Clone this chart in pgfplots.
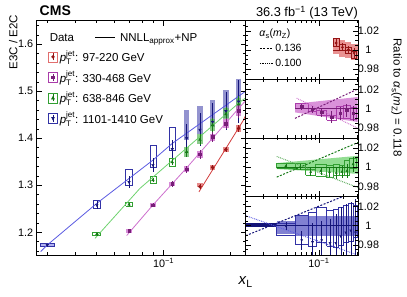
\documentclass[border=0pt]{standalone}
\usepackage{pgfplots}
\pgfplotsset{compat=1.18}
\usepackage{fontspec}
\setmainfont{Liberation Sans}

\definecolor{redM}{RGB}{150,20,20}
\definecolor{redL}{RGB}{210,60,60}
\definecolor{redB}{RGB}{225,110,110}
\definecolor{purM}{RGB}{120,30,120}
\definecolor{purL}{RGB}{205,110,205}
\definecolor{purB}{RGB}{170,60,170}
\definecolor{grnM}{RGB}{20,120,20}
\definecolor{grnL}{RGB}{110,210,110}
\definecolor{grnB}{RGB}{50,160,50}
\definecolor{bluM}{RGB}{20,20,120}
\definecolor{bluL}{RGB}{90,90,225}
\definecolor{bluB}{RGB}{50,50,165}

\newcommand{\pTjet}{\textit{p}$_{\mathrm{T}}^{\mathrm{jet}}$}
\newcommand{\obox}[5]{\addplot[#1,forget plot] coordinates {(#2,#4) (#3,#4) (#3,#5) (#2,#5) (#2,#4)};}
\newcommand{\fbx}[5]{\addplot[#1,draw=none,forget plot] coordinates {(#2,#4) (#3,#4) (#3,#5) (#2,#5)};}

\pgfplotsset{
 every axis/.append style={
   scale only axis, axis line style={line width=0.55pt}, tick align=inside,
   every tick/.style={black, line width=0.45pt},
   major tick length=5pt, minor tick length=2.6pt,
   tick label style={font=\fontsize{10.8}{12}\selectfont},
   axis on top,
 },
 mk/.style={only marks, mark size=1.5pt, forget plot,
   error bars/y dir=both, error bars/y explicit,
   error bars/error bar style={line width=0.5pt}, error bars/error mark=none},
}

\begin{document}
\begin{tikzpicture}
\useasboundingbox (0,0) rectangle (407pt,297pt);

% ================= MAIN PANEL =================
\begin{axis}[at={(36.7pt,42pt)}, anchor=south west, width=209pt, height=234.3pt,
  xmode=log, xmin=0.02698, xmax=0.2335, ymin=1.1517, ymax=1.65,
  xtick={0.1}, xticklabels={10\textsuperscript{−1}},
  minor xtick={0.03,0.04,0.05,0.06,0.07,0.08,0.09,0.2},
  ytick={1.2,1.3,1.4,1.5,1.6}, yticklabels={1.2,1.3,1.4,1.5,1.6},
  minor ytick={1.16,1.18,1.22,1.24,1.26,1.28,1.32,1.34,1.36,1.38,1.42,1.44,1.46,1.48,1.52,1.54,1.56,1.58,1.62,1.64},
  legend style={at={(axis description cs:0.054,0.955)}, anchor=north west, draw=none, fill=none,
     font=\fontsize{11.5}{13}\selectfont, row sep=3.4pt, inner sep=0pt},
  legend cell align=left,
]
\addlegendimage{empty legend}
\addlegendentry{\hspace*{-10pt}Data\hspace{21pt}\rule[3.6pt]{20pt}{0.8pt}\hspace{5pt}NNLL\textsubscript{approx}+NP}
\addlegendimage{legend image code/.code={
  \draw[redB, line width=0.6pt] (0pt,-5pt) rectangle (9pt,5pt);
  \draw[redM, line width=0.5pt] (4.5pt,-3.5pt) -- (4.5pt,3.5pt);
  \fill[redM] (4.5pt,0pt) circle (1.5pt);}}
\addlegendentry{\pTjet: 97-220 GeV}
\addlegendimage{legend image code/.code={
  \draw[purB, line width=0.6pt] (0pt,-5pt) rectangle (9pt,5pt);
  \draw[purM, line width=0.5pt] (4.5pt,-3.5pt) -- (4.5pt,3.5pt);
  \fill[purM] (3.2pt,-1.3pt) rectangle (5.8pt,1.3pt);}}
\addlegendentry{\pTjet: 330-468 GeV}
\addlegendimage{legend image code/.code={
  \draw[grnB, line width=0.6pt] (0pt,-5pt) rectangle (9pt,5pt);
  \draw[grnM, line width=0.5pt] (4.5pt,-3.5pt) -- (4.5pt,3.5pt);
  \fill[grnM] (3.0pt,-1.2pt) -- (6.0pt,-1.2pt) -- (4.5pt,1.6pt) -- cycle;}}
\addlegendentry{\pTjet: 638-846 GeV}
\addlegendimage{legend image code/.code={
  \draw[bluB, line width=0.6pt] (0pt,-5pt) rectangle (9pt,5pt);
  \draw[bluM, line width=0.5pt] (4.5pt,-3.5pt) -- (4.5pt,3.5pt);
  \fill[bluM] (3.0pt,1.2pt) -- (6.0pt,1.2pt) -- (4.5pt,-1.6pt) -- cycle;}}
\addlegendentry{\pTjet: 1101-1410 GeV}

% --- blue boxes & bars
\fbx{fill=bluL!60, opacity=0.8}{0.02793}{0.03225}{1.170}{1.177}
\obox{bluB, line width=0.6pt}{0.02793}{0.03225}{1.170}{1.177}
\obox{bluB, line width=0.6pt}{0.0485}{0.0520}{1.252}{1.267}
\obox{bluB, line width=0.6pt}{0.0677}{0.0724}{1.299}{1.334}
\obox{bluB, line width=0.6pt}{0.0868}{0.0925}{1.339}{1.385}
\obox{bluB, line width=0.6pt}{0.1063}{0.1127}{1.375}{1.423}
\fbx{fill=bluB!75, opacity=0.7}{0.1233}{0.1306}{1.396}{1.460}
\fbx{fill=bluB!75, opacity=0.7}{0.1414}{0.1499}{1.410}{1.468}
\fbx{fill=bluB!75, opacity=0.7}{0.1612}{0.1708}{1.424}{1.481}
\fbx{fill=bluB!75, opacity=0.7}{0.1849}{0.1959}{1.442}{1.502}
\fbx{fill=bluB!75, opacity=0.7}{0.2109}{0.2235}{1.455}{1.525}
% --- green
\obox{grnB, line width=0.6pt}{0.0479}{0.0522}{1.193}{1.199}
\obox{grnB, line width=0.6pt}{0.0677}{0.0724}{1.256}{1.263}
\obox{grnB, line width=0.6pt}{0.0868}{0.0925}{1.304}{1.319}
\obox{grnB, line width=0.6pt}{0.1063}{0.1127}{1.341}{1.357}
\fbx{fill=grnB!80, opacity=0.7}{0.1233}{0.1306}{1.360}{1.382}
\fbx{fill=grnB!80, opacity=0.7}{0.1414}{0.1499}{1.388}{1.410}
\fbx{fill=grnB!80, opacity=0.7}{0.1612}{0.1708}{1.416}{1.440}
\fbx{fill=grnB!80, opacity=0.7}{0.1849}{0.1959}{1.440}{1.464}
\fbx{fill=grnB!80, opacity=0.7}{0.2109}{0.2235}{1.458}{1.486}
% --- purple
\fbx{fill=purL, opacity=0.8}{0.0677}{0.0724}{1.199}{1.207}
\fbx{fill=purL, opacity=0.8}{0.0868}{0.0925}{1.254}{1.262}
\fbx{fill=purL, opacity=0.8}{0.1063}{0.1127}{1.298}{1.308}
\fbx{fill=purL, opacity=0.8}{0.1233}{0.1306}{1.329}{1.340}
\fbx{fill=purL, opacity=0.8}{0.1414}{0.1499}{1.359}{1.372}
\fbx{fill=purL, opacity=0.8}{0.1612}{0.1708}{1.395}{1.410}
\fbx{fill=purL, opacity=0.8}{0.1849}{0.1959}{1.422}{1.440}
\fbx{fill=purL, opacity=0.8}{0.2109}{0.2235}{1.447}{1.470}
% --- red
\fbx{fill=redB, opacity=0.8}{0.1414}{0.1499}{1.296}{1.305}
\fbx{fill=redB, opacity=0.8}{0.1612}{0.1708}{1.333}{1.344}
\fbx{fill=redB, opacity=0.8}{0.1849}{0.1959}{1.371}{1.382}
\fbx{fill=redB, opacity=0.8}{0.2109}{0.2235}{1.414}{1.428}

% --- theory lines
\addplot[bluL, line width=0.8pt, forget plot] coordinates {(0.0281,1.159) (0.0301,1.173) (0.0502,1.2616) (0.0896,1.3535) (0.1094,1.389) (0.2201,1.4915) (0.2335,1.500)};
\addplot[grnL, line width=0.8pt, forget plot] coordinates {(0.04925,1.187) (0.0784,1.2935) (0.2201,1.477) (0.2335,1.486)};
\addplot[purL, line width=0.8pt, forget plot] coordinates {(0.0683,1.193) (0.0896,1.258) (0.1269,1.337) (0.2201,1.4667) (0.2335,1.480)};
\addplot[redL, line width=0.8pt, forget plot] coordinates {(0.1441,1.286) (0.2278,1.438) (0.2335,1.449)};

% --- data markers
\addplot[mk, bluM, mark=triangle*, mark options={rotate=180}] table[x=x,y=y,y error=e] {
x y e
0.0301 1.173 0.003
0.0502 1.258 0.008
0.0700 1.307 0.012
0.0896 1.343 0.014
0.1094 1.377 0.02
0.1269 1.400 0.03
0.1456 1.418 0.035
0.1659 1.435 0.04
0.1903 1.458 0.04
0.2171 1.478 0.045
};
\addplot[mk, grnM, mark=triangle*] table[x=x,y=y,y error=e] {
x y e
0.0502 1.196 0.003
0.0700 1.259 0.004
0.0896 1.311 0.005
0.1094 1.349 0.006
0.1269 1.371 0.01
0.1456 1.397 0.012
0.1659 1.428 0.015
0.1903 1.451 0.015
0.2171 1.472 0.018
};
\addplot[mk, purM, mark=square*, mark size=1.3pt] table[x=x,y=y,y error=e] {
x y e
0.0700 1.2034 0.002
0.0896 1.258 0.004
0.1094 1.303 0.006
0.1269 1.334 0.008
0.1456 1.366 0.01
0.1659 1.403 0.01
0.1903 1.431 0.012
0.2171 1.458 0.014
};
\addplot[mk, redM, mark=*] table[x=x,y=y,y error=e] {
x y e
0.1456 1.297 0.005
0.1659 1.338 0.005
0.1903 1.376 0.006
0.2171 1.421 0.008
};
\end{axis}

% ================= RATIO PANEL 1 (red) =================
\begin{axis}[at={(245.7pt,217.725pt)}, anchor=south west, width=112.3pt, height=58.575pt,
   xmode=log, xmin=0.01212, xmax=0.3072, ymin=0.9695, ymax=1.0305,
   ytick={0.98,1,1.02}, yticklabels={0.98,1,1.02},
   minor ytick={0.975,0.985,0.99,0.995,1.005,1.01,1.015,1.025},
   yticklabel pos=right, yticklabel style={anchor=center, xshift=10.5pt},
   xtick={0.1}, minor xtick={0.02,0.03,0.04,0.05,0.06,0.07,0.08,0.09,0.2,0.3},
   xticklabels={},
  legend style={at={(axis description cs:0.12,0.90)}, anchor=north west, draw=none, fill=none,
     font=\fontsize{10.5}{11}\selectfont, row sep=2.2pt, inner sep=0pt},
  legend cell align=left]
\addlegendimage{empty legend}
\addlegendentry{\hspace*{-16pt}\textit{α}$_{\mathrm{s}}$(\textit{m}$_{\mathrm{Z}}$)}
\addlegendimage{legend image code/.code={\draw[black, line width=0.9pt, dash pattern=on 2pt off 1.5pt] (0pt,0pt)--(13pt,0pt);}}
\addlegendentry{0.136}
\addlegendimage{legend image code/.code={\draw[black, line width=0.9pt, dash pattern=on 0.8pt off 1pt] (0pt,0pt)--(13pt,0pt);}}
\addlegendentry{0.100}
\fbx{fill=redB, opacity=0.75}{0.1490}{0.1800}{0.996}{1.011}
\fbx{fill=redB, opacity=0.75}{0.1800}{0.2140}{0.993}{1.010}
\fbx{fill=redB, opacity=0.75}{0.2140}{0.2540}{0.992}{1.008}
\fbx{fill=redB, opacity=0.75}{0.2540}{0.3047}{0.990}{1.006}
\obox{redM, line width=0.6pt}{0.1490}{0.1800}{1.0039}{1.0118}
\obox{redM, line width=0.6pt}{0.1800}{0.2140}{0.9993}{1.0055}
\obox{redM, line width=0.6pt}{0.2140}{0.2540}{0.9969}{1.0028}
\obox{redM, line width=0.6pt}{0.2540}{0.2960}{0.9909}{0.9986}
\addplot[redM, line width=0.6pt, forget plot] coordinates {(0.149,1) (0.3047,1)};
\addplot[mk, redM, mark=*, mark size=1.2pt] table[x=x,y=y,y error=e] {
x y e
0.1638 1.0073 0.004
0.1963 1.0028 0.004
0.2332 1.0003 0.004
0.2742 0.9969 0.005
};
\end{axis}

% ================= RATIO PANEL 2 (purple) =================
\begin{axis}[at={(245.7pt,159.15pt)}, anchor=south west, width=112.3pt, height=58.575pt,
   xmode=log, xmin=0.01212, xmax=0.3072, ymin=0.9695, ymax=1.0305,
   ytick={0.98,1,1.02}, yticklabels={0.98,1,1.02},
   minor ytick={0.975,0.985,0.99,0.995,1.005,1.01,1.015,1.025},
   yticklabel pos=right, yticklabel style={anchor=center, xshift=10.5pt},
   xtick={0.1}, minor xtick={0.02,0.03,0.04,0.05,0.06,0.07,0.08,0.09,0.2,0.3},
   xticklabels={}]
\addplot[fill=purL, opacity=0.75, draw=none, forget plot] coordinates {(0.0501,0.996) (0.0501,1.005) (0.3047,1.012) (0.3047,0.986)};
\obox{purB, line width=0.6pt}{0.0501}{0.0735}{1.0003}{1.0055}
\obox{purB, line width=0.6pt}{0.0735}{0.0936}{0.9969}{1.0007}
\obox{purB, line width=0.6pt}{0.0936}{0.1248}{0.9931}{0.9983}
\obox{purB, line width=0.6pt}{0.1248}{0.1665}{0.988}{0.9931}
\obox{purB, line width=0.6pt}{0.1665}{0.2013}{0.9899}{1.002}
\obox{purB, line width=0.6pt}{0.2013}{0.2450}{0.9899}{1.003}
\obox{purB, line width=0.6pt}{0.2450}{0.2950}{0.989}{1.001}
\addplot[purM, line width=0.6pt, forget plot] coordinates {(0.0501,1) (0.3047,1)};
\addplot[purM, line width=1pt, dash pattern=on 2pt off 1.5pt, forget plot] coordinates {(0.0501,0.9898) (0.3072,1.0205)};
\addplot[purL, line width=1pt, dash pattern=on 0.8pt off 1pt, forget plot] coordinates {(0.0526,1.0108) (0.3072,0.9794)};
\addplot[mk, purM, mark=square*, mark size=1.1pt] table[x=x,y=y,y error=e] {
x y e
0.0608 1.002 0.003
0.0830 0.999 0.004
0.1080 0.996 0.005
0.1440 0.991 0.006
0.1830 0.995 0.007
0.2220 0.998 0.007
0.2690 0.995 0.008
};
\end{axis}

% ================= RATIO PANEL 3 (green) =================
\begin{axis}[at={(245.7pt,100.575pt)}, anchor=south west, width=112.3pt, height=58.575pt,
   xmode=log, xmin=0.01212, xmax=0.3072, ymin=0.9695, ymax=1.0305,
   ytick={0.98,1,1.02}, yticklabels={0.98,1,1.02},
   minor ytick={0.975,0.985,0.99,0.995,1.005,1.01,1.015,1.025},
   yticklabel pos=right, yticklabel style={anchor=center, xshift=10.5pt},
   xtick={0.1}, minor xtick={0.02,0.03,0.04,0.05,0.06,0.07,0.08,0.09,0.2,0.3},
   xticklabels={}]
\addplot[fill=grnL, opacity=0.75, draw=none, forget plot] coordinates {(0.0296,0.998) (0.0296,1.0042) (0.3072,1.0118) (0.3072,0.993)};
\obox{grnB, line width=0.6pt}{0.0296}{0.0501}{0.9986}{1.0042}
\obox{grnB, line width=0.6pt}{0.0501}{0.0680}{0.9980}{1.0035}
\obox{grnB, line width=0.6pt}{0.0680}{0.0910}{0.9916}{0.9979}
\obox{grnB, line width=0.6pt}{0.0910}{0.1220}{0.9903}{1.0028}
\obox{grnB, line width=0.6pt}{0.1220}{0.1500}{0.9896}{1.0018}
\obox{grnB, line width=0.6pt}{0.1500}{0.1800}{0.9910}{1.0028}
\obox{grnB, line width=0.6pt}{0.1800}{0.2080}{0.9920}{1.0018}
\obox{grnB, line width=0.6pt}{0.2080}{0.2400}{0.9920}{1.0070}
\obox{grnB, line width=0.6pt}{0.2400}{0.2960}{0.9990}{1.0090}
\addplot[grnM, line width=0.6pt, forget plot] coordinates {(0.0296,1) (0.3047,1)};
\addplot[grnM, line width=1pt, dash pattern=on 2pt off 1.5pt, forget plot] coordinates {(0.0296,0.9896) (0.3072,1.0257)};
\addplot[grnL!80!black, line width=1pt, dash pattern=on 0.8pt off 1pt, forget plot] coordinates {(0.0296,1.0111) (0.3072,0.9787)};
\addplot[mk, grnM, mark=triangle*, mark size=1.2pt] table[x=x,y=y,y error=e] {
x y e
0.0385 1.001 0.002
0.0584 1.000 0.003
0.0787 0.995 0.004
0.1054 0.996 0.004
0.1353 0.995 0.005
0.1643 0.994 0.006
0.1935 0.995 0.006
0.2234 0.996 0.007
0.2666 1.003 0.008
};
\end{axis}

% ================= RATIO PANEL 4 (blue) =================
\begin{axis}[at={(245.7pt,42pt)}, anchor=south west, width=112.3pt, height=58.575pt,
   xmode=log, xmin=0.01212, xmax=0.3072, ymin=0.9695, ymax=1.0305,
   ytick={0.98,1,1.02}, yticklabels={0.98,1,1.02},
   minor ytick={0.975,0.985,0.99,0.995,1.005,1.01,1.015,1.025},
   yticklabel pos=right, yticklabel style={anchor=center, xshift=10.5pt},
   xtick={0.1}, minor xtick={0.02,0.03,0.04,0.05,0.06,0.07,0.08,0.09,0.2,0.3},
   xticklabels={10\textsuperscript{−1}}]
\fbx{fill=bluM}{0.01212}{0.0300}{0.9982}{1.0028}
\fbx{fill=bluL!85!black, opacity=0.7}{0.0296}{0.0501}{0.9913}{1.0052}
\fbx{fill=bluL!85!black, opacity=0.7}{0.0501}{0.3072}{0.9896}{1.0104}
\obox{bluB, line width=0.6pt}{0.0296}{0.0501}{0.9896}{1.0028}
\obox{bluB, line width=0.6pt}{0.0501}{0.0735}{0.981}{1.0104}
\obox{bluB, line width=0.6pt}{0.0735}{0.0936}{0.979}{1.014}
\obox{bluB, line width=0.6pt}{0.0936}{0.1248}{0.9826}{1.019}
\obox{bluB, line width=0.6pt}{0.1248}{0.151}{0.979}{1.0157}
\obox{bluB, line width=0.6pt}{0.151}{0.1742}{0.977}{1.0170}
\obox{bluB, line width=0.6pt}{0.1742}{0.2013}{0.980}{1.019}
\obox{bluB, line width=0.6pt}{0.2013}{0.2324}{0.983}{1.021}
\obox{bluB, line width=0.6pt}{0.2324}{0.2685}{0.984}{1.023}
\obox{bluB, line width=0.6pt}{0.2685}{0.3047}{0.988}{1.021}
\addplot[bluM, line width=0.6pt, forget plot] coordinates {(0.01212,1) (0.3047,1)};
\addplot[bluM, line width=1pt, dash pattern=on 2pt off 1.5pt, forget plot] coordinates {(0.01212,0.9896) (0.2013,1.0306)};
\addplot[bluL, line width=1pt, dash pattern=on 0.8pt off 1pt, forget plot] coordinates {(0.01212,1.0104) (0.2850,0.9704)};
\addplot[mk, bluM, mark=triangle*, mark options={rotate=180}, mark size=1.2pt] table[x=x,y=y,y error=e] {
x y e
0.0385 1.000 0.004
0.0607 0.985 0.010
0.0830 0.983 0.020
0.1080 0.985 0.020
0.1373 0.982 0.025
0.1622 0.982 0.030
0.1873 0.989 0.030
0.2163 0.993 0.030
0.2498 0.995 0.030
0.2860 0.993 0.035
};
\end{axis}

% ================= TEXT =================
\node[anchor=base west, font=\bfseries\fontsize{14}{16}\selectfont] at (36.2pt,281pt) {CMS};
\node[anchor=base east, font=\fontsize{12.8}{14}\selectfont, inner sep=0pt] at (358pt,280.5pt) {36.3 fb\textsuperscript{−1} (13 TeV)};
\node[rotate=90, anchor=east, font=\fontsize{11.5}{13}\selectfont, inner sep=0pt] at (13.3pt,282pt) {E3C / E2C};
\node[rotate=-90, anchor=center, font=\fontsize{11.5}{13}\selectfont, inner sep=0pt] at (396.7pt,199.5pt) {Ratio to \textit{α}$_{\mathrm{s}}$(\textit{m}$_{\mathrm{Z}}$) = 0.118};
\node[anchor=base east, font=\fontsize{15}{16}\selectfont, inner sep=0pt] at (253pt,12pt) {\textit{x}$_{\mathrm{L}}$};
\end{tikzpicture}
\end{document}
